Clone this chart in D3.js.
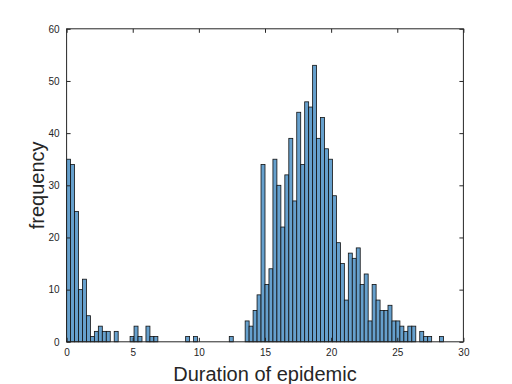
<!DOCTYPE html>
<html>
<head>
<meta charset="utf-8">
<script src="https://cdn.jsdelivr.net/npm/d3@7"></script>
<style>
  body { margin: 0; background: #fff; }
  svg { display: block; }
  .axis text { font-family: "Liberation Sans", Arial, sans-serif; font-size: 10px; fill: #262626; }
  .label { font-family: "Liberation Sans", Arial, sans-serif; font-size: 20px; fill: #262626; }
</style>
</head>
<body>
<div class="hist"></div>
<script>
// histogram counts, bin width 0.3 starting at 0
const binWidth = 0.3;
const counts = [
  35, 34, 25, 10, 12, 5, 1, 2, 3, 2,
  2, 0, 2, 0, 0, 0, 1, 3, 1, 0,
  3, 1, 1, 0, 0, 0, 0, 0, 0, 0,
  1, 0, 1, 0, 0, 0, 0, 0, 0, 0,
  0, 1, 0, 0, 0, 4, 3, 6, 9, 34,
  11, 14, 35, 30, 22, 32, 39, 27, 44, 34,
  46, 45, 53, 39, 43, 37, 35, 28, 19, 15,
  8, 17, 16, 18, 11, 13, 4, 11, 8, 6,
  6, 7, 4, 4, 3, 2, 3, 3, 0, 2,
  1, 1, 0, 0, 1
];
const xTicks = [0, 5, 10, 15, 20, 25, 30];
const yTicks = [0, 10, 20, 30, 40, 50, 60];

const bins = counts.map((c, i) => ({x0: i * binWidth, x1: (i + 1) * binWidth, count: c}));

// margin convention
const margin = ({top: 28.8, right: 48.6, bottom: 42.2, left: 66.6});
const width = 512 - margin.left - margin.right;
const height = 384 - margin.top - margin.bottom;

const svg = d3.select(".hist")
    .append("svg")
    .attr("width", 512)
    .attr("height", 384)
    .append("g")
    .attr("transform", `translate(${margin.left},${margin.top})`);

const xScale = d3.scaleLinear().domain([0, 30]).range([0, width]);
const yScale = d3.scaleLinear().domain([0, 60]).range([height, 0]);

svg.selectAll("rect")
    .data(bins.filter(d => d.count > 0))
    .enter()
    .append("rect")
    .attr("x", d => xScale(d.x0))
    .attr("y", d => yScale(d.count))
    .attr("width", d => xScale(d.x1) - xScale(d.x0))
    .attr("height", d => yScale(0) - yScale(d.count))
    .attr("fill", "rgb(102,160,205)")
    .attr("stroke", "#111")
    .attr("stroke-width", 0.8);

// axes, ticks pointing inward on all four sides
const tick = 4;
const xAxis = d3.axisBottom(xScale).tickValues(xTicks).tickSizeInner(-tick).tickSizeOuter(0).tickPadding(7);
const yAxis = d3.axisLeft(yScale).tickValues(yTicks).tickSizeInner(-tick).tickSizeOuter(0).tickPadding(7);

svg.append("g")
    .attr("class", "axis")
    .attr("transform", `translate(0,${height})`)
    .call(xAxis)
    .call(g => g.select(".domain").remove());

svg.append("g")
    .attr("class", "axis")
    .call(yAxis)
    .call(g => g.select(".domain").remove());

svg.append("g")
    .call(d3.axisTop(xScale).tickValues(xTicks).tickSizeInner(-tick).tickSizeOuter(0).tickFormat(""))
    .call(g => g.select(".domain").remove());

svg.append("g")
    .attr("transform", `translate(${width},0)`)
    .call(d3.axisRight(yScale).tickValues(yTicks).tickSizeInner(-tick).tickSizeOuter(0).tickFormat(""))
    .call(g => g.select(".domain").remove());

svg.selectAll(".tick line").attr("stroke", "#262626");

// box
svg.append("rect")
    .attr("width", width)
    .attr("height", height)
    .attr("fill", "none")
    .attr("stroke", "#262626")
    .attr("stroke-width", 1);

// labels
svg.append("text")
    .attr("class", "label")
    .attr("x", width / 2)
    .attr("y", height + 39)
    .attr("text-anchor", "middle")
    .text("Duration of epidemic");

svg.append("text")
    .attr("class", "label")
    .attr("transform", `translate(-23,${height / 2}) rotate(-90)`)
    .attr("text-anchor", "middle")
    .text("frequency");
</script>
</body>
</html>
